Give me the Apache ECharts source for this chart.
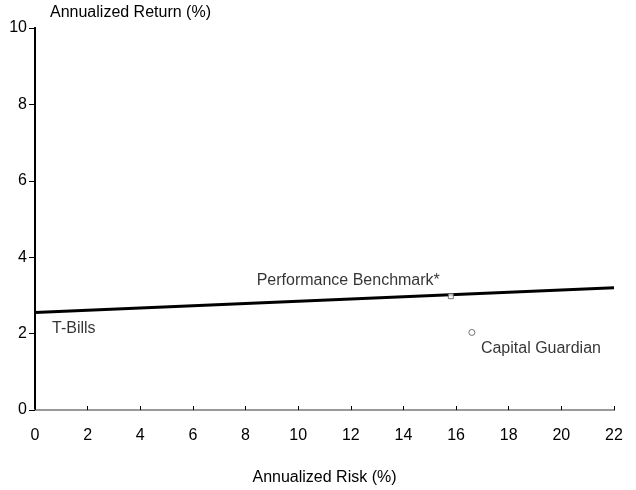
<!DOCTYPE html>
<html>
<head>
<meta charset="utf-8">
<script src="https://cdn.jsdelivr.net/npm/echarts@6/dist/echarts.min.js"></script>
<style>
  html, body { margin: 0; padding: 0; background: #fff; }
  #chart { width: 636px; height: 490px; }
</style>
</head>
<body>
<div id="chart"></div>
<script>
// benchmark line (risk, return)
const benchmarkRisk = [0, 22];
const benchmarkReturn = [2.55, 3.2];

// labelled points
const pointNames = ["T-Bills", "Performance Benchmark*", "Capital Guardian"];
const pointRisk = [0, 15.8, 16.6];
const pointReturn = [2.55, 2.98, 2.03];

const xTicks = [0, 2, 4, 6, 8, 10, 12, 14, 16, 18, 20, 22];
const yTicks = [0, 2, 4, 6, 8, 10];

const font = "'Liberation Sans', Arial, sans-serif";
const chart = echarts.init(document.getElementById("chart"));

// label placement per point
const labelStyles = [
  { align: "left", offset: [17, 16] },
  { align: "right", offset: [-11, -16] },
  { align: "left", offset: [9, 16] }
];
const symbols = [
  { symbolSize: 1, border: 0 },
  { symbol: "rect", symbolSize: 5, border: 1 },
  { symbol: "circle", symbolSize: 6, border: 1 }
];

const points = pointNames.map((name, i) => ({
  name: name,
  value: [pointRisk[i], pointReturn[i]],
  symbol: symbols[i].symbol || "circle",
  symbolSize: symbols[i].symbolSize,
  itemStyle: { borderWidth: symbols[i].border, color: symbols[i].border ? "#fff" : "transparent" },
  label: {
    show: true,
    position: "inside",
    formatter: "{b}",
    align: labelStyles[i].align,
    verticalAlign: "middle",
    offset: labelStyles[i].offset,
    color: "#000",
    fontFamily: font,
    fontSize: 16
  }
}));

const option = {
  animation: false,
  backgroundColor: "#fff",
  grid: { left: 35, right: 22, top: 28, bottom: 80, outerBoundsMode: "none", containLabel: false },
  xAxis: [{
    type: "value",
    min: 0,
    max: 22,
    interval: 2,
    name: "Annualized Risk (%)",
    nameLocation: "middle",
    nameGap: 60,
    nameTextStyle: { color: "#000", fontFamily: font, fontSize: 16 },
    axisLine: { show: true, lineStyle: { color: "#000", width: 2 } },
    axisTick: { show: true, inside: true, length: 4, lineStyle: { color: "#000" } },
    axisLabel: { color: "#000", fontFamily: font, fontSize: 16, margin: 18 },
    splitLine: { show: false }
  }, {
    type: "value",
    position: "top",
    min: 0,
    max: 22,
    axisLine: { show: true, lineStyle: { color: "#999", width: 2 } },
    axisTick: { show: false },
    axisLabel: { show: false },
    splitLine: { show: false }
  }],
  yAxis: [{
    type: "value",
    min: 0,
    max: 10,
    interval: 2,
    name: "Annualized Return (%)",
    nameLocation: "end",
    nameGap: 7,
    nameTextStyle: { color: "#000", fontFamily: font, fontSize: 16, align: "left", padding: [0, 0, 0, 15] },
    axisLine: { show: true, lineStyle: { color: "#000", width: 2 } },
    axisTick: { show: true, length: 6, lineStyle: { color: "#000" } },
    axisLabel: { color: "#000", fontFamily: font, fontSize: 16, margin: 8 },
    splitLine: { show: false }
  }, {
    type: "value",
    position: "right",
    min: 0,
    max: 10,
    axisLine: { show: true, lineStyle: { color: "#000", width: 2 } },
    axisTick: { show: false },
    axisLabel: { show: false },
    splitLine: { show: false }
  }],
  series: [{
    type: "line",
    data: benchmarkRisk.map((x, i) => [x, benchmarkReturn[i]]),
    symbol: "none",
    lineStyle: { color: "#000", width: 3 },
    silent: true
  }, {
    type: "scatter",
    data: points,
    itemStyle: { color: "#fff", borderColor: "#555", borderWidth: 1 },
    z: 5
  }]
};
chart.setOption(option);
</script>
</body>
</html>
